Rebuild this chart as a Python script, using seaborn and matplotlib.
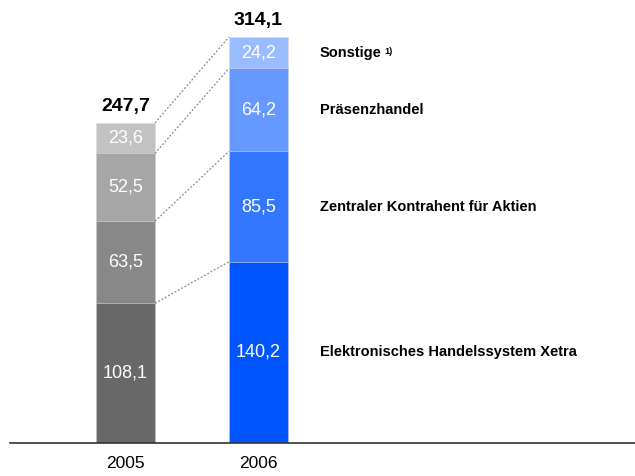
import numpy as np
import pandas as pd
import matplotlib
matplotlib.use("Agg")
import matplotlib.pyplot as plt
import seaborn as sns

# Daten (Mio. EUR), von unten nach oben gestapelt
years = ["2005", "2006"]
segments = ["Elektronisches Handelssystem Xetra",
            "Zentraler Kontrahent für Aktien",
            "Präsenzhandel",
            "Sonstige"]
values_2005 = [108.1, 63.5, 52.5, 23.6]
values_2006 = [140.2, 85.5, 64.2, 24.2]
totals = [247.7, 314.1]

grey_colors = ["#686868", "#888888", "#a6a6a6", "#c2c2c2"]
blue_colors = ["#0055ff", "#3377ff", "#6699ff", "#99bbff"]

sns.set_style("white")
plt.rcParams["font.family"] = ["Liberation Sans", "DejaVu Sans"]

fig = plt.figure(figsize=(6.35, 4.76), dpi=100)
ax = fig.add_axes([10 / 635, 1 - 443 / 476, 625 / 635, 443 / 476])

cum_2005 = np.cumsum(values_2005)
cum_2006 = np.cumsum(values_2006)
bar_w = 59 / 133

# gestapelte Balken: von oben nach unten ueberlagert
for k in range(len(segments) - 1, -1, -1):
    df = pd.DataFrame({"Jahr": years, "Wert": [cum_2005[k], cum_2006[k]]})
    sns.barplot(data=df, x="Jahr", y="Wert", hue="Jahr",
                palette=[grey_colors[k], blue_colors[k]], legend=False,
                width=bar_w, linewidth=0.4, edgecolor="#dddddd",
                saturation=1, ax=ax)

# Werte in den Segmenten
for i, vals in enumerate([values_2005, values_2006]):
    bottom = 0
    for v in vals:
        ax.text(i, bottom + v / 2, f"{v:.1f}".replace(".", ","),
                ha="center", va="center", color="white", fontsize=13)
        bottom += v
    ax.text(i, totals[i] + 6, f"{totals[i]:.1f}".replace(".", ","),
            ha="center", va="bottom", color="black", fontsize=14,
            fontweight="bold")

# gepunktete Verbindungslinien
x0 = bar_w / 2
x1 = 1 - bar_w / 2
for k in range(len(segments)):
    ax.plot([x0, x1], [cum_2005[k], cum_2006[k]], color="#888888",
            lw=0.9, linestyle=(0, (1.5, 1.5)))

# Beschriftungen rechts
label_x = (320 - 125.5) / 133
for k, name in enumerate(segments):
    mid = cum_2006[k] - values_2006[k] / 2
    t = ax.text(label_x, mid, name, ha="left", va="center", color="black",
                fontsize=10.5, fontweight="bold")
    if name == "Sonstige":
        ax.annotate("1)", xy=(1, 1), xycoords=t, xytext=(2, -1),
                    textcoords="offset points", ha="left", va="top",
                    fontsize=6.5, fontweight="bold", color="black")

ax.set_xlim(-(125.5 - 10) / 133, (635 - 125.5) / 133)
ax.set_ylim(0, 443 / 1.2926)
ax.set_xlabel("")
ax.set_ylabel("")
ax.set_yticks([])
ax.tick_params(axis="x", length=0, pad=9, labelsize=12.5, labelcolor="black")
for s in ["top", "left", "right"]:
    ax.spines[s].set_visible(False)
ax.spines["bottom"].set_color("#333333")
ax.spines["bottom"].set_linewidth(1.2)

fig.savefig("out.png", dpi=100)
